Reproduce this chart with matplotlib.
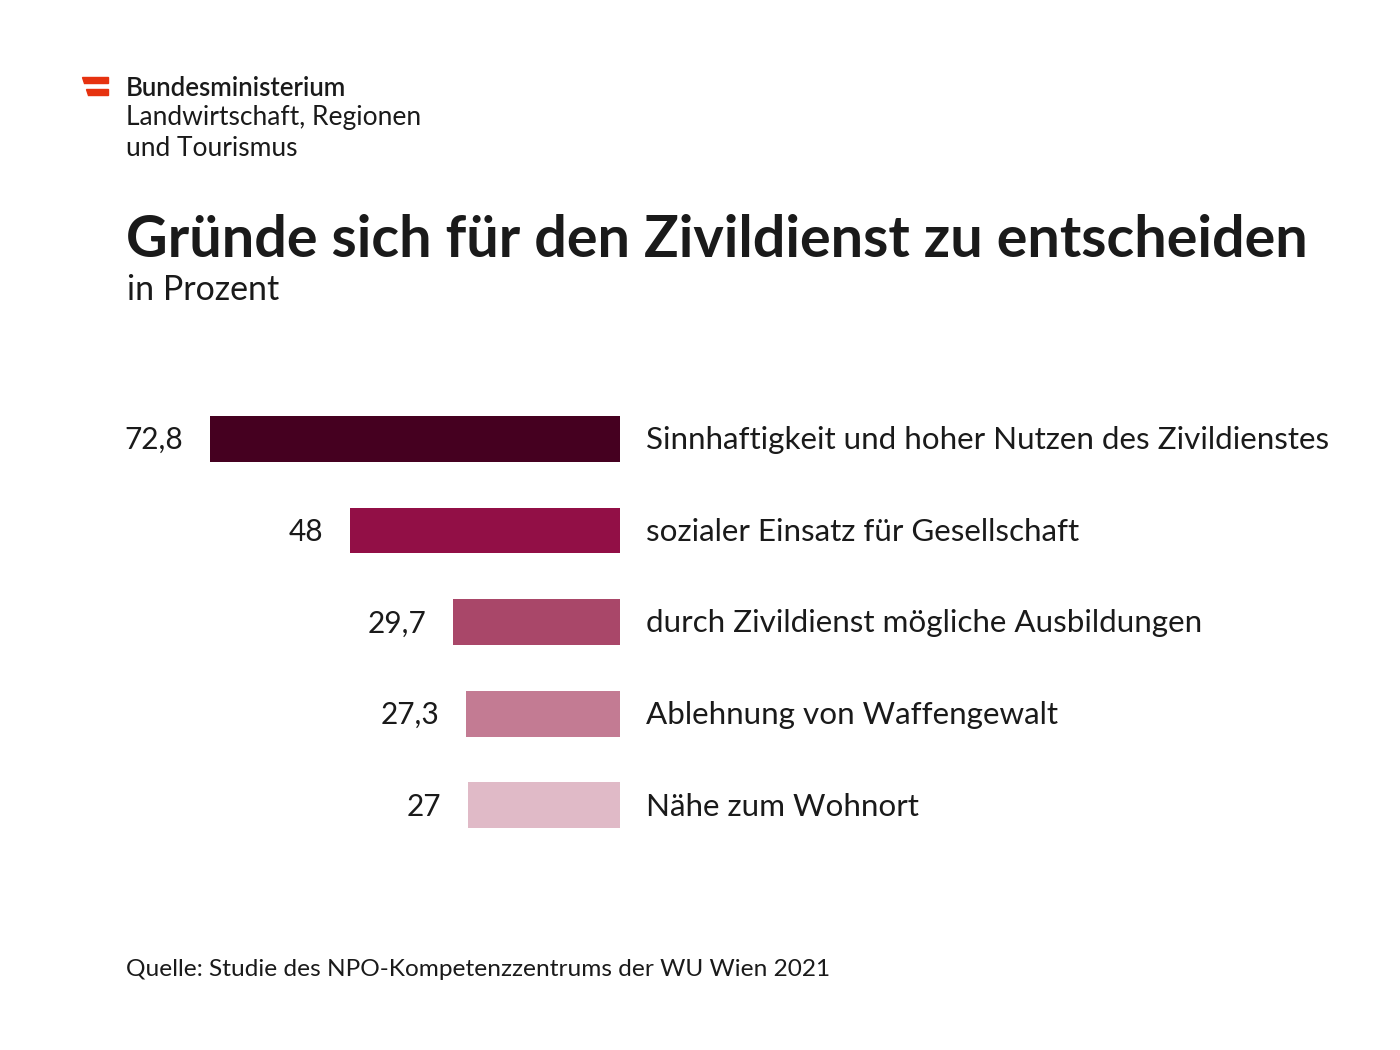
import matplotlib
matplotlib.use("Agg")
import matplotlib.pyplot as plt
from matplotlib.patches import Polygon

categories = [
    "Sinnhaftigkeit und hoher Nutzen des Zivildienstes",
    "sozialer Einsatz für Gesellschaft",
    "durch Zivildienst mögliche Ausbildungen",
    "Ablehnung von Waffengewalt",
    "Nähe zum Wohnort",
]
values = [72.8, 48, 29.7, 27.3, 27]
value_labels = ["72,8", "48", "29,7", "27,3", "27"]
colors = ["#450020", "#920f46", "#a94769", "#c37b93", "#e0bac7"]

FONT = "Lato"
plt.rcParams["font.family"] = [FONT, "DejaVu Sans"]

W, H = 1400, 1050
fig = plt.figure(figsize=(W / 100, H / 100), dpi=100)
fig.patch.set_facecolor("white")

def fx(px):
    return px / W

def fy(py):
    return 1 - py / H

# logo
fig.patches.append(Polygon([(fx(82), fy(77)), (fx(108), fy(77)), (fx(108), fy(83)), (fx(84), fy(83))],
                           closed=True, transform=fig.transFigure, color="#e6320f"))
fig.patches.append(Polygon([(fx(86), fy(89)), (fx(108), fy(89)), (fx(108), fy(95)), (fx(88), fy(95))],
                           closed=True, transform=fig.transFigure, color="#e6320f"))
fig.text(fx(126), fy(88), "Bundesministerium", fontsize=18.5, fontweight="semibold",
         va="center", ha="left", color="#1a1a1a")
fig.text(fx(126), fy(118), "Landwirtschaft, Regionen", fontsize=19, fontweight="normal",
         va="center", ha="left", color="#1a1a1a")
fig.text(fx(126), fy(148), "und Tourismus", fontsize=19, fontweight="normal",
         va="center", ha="left", color="#1a1a1a")

# title
fig.text(fx(126), fy(241), "Gründe sich für den Zivildienst zu entscheiden", fontsize=41.4,
         fontweight="bold", va="center", ha="left", color="#1a1a1a")
fig.text(fx(127), fy(290), "in Prozent", fontsize=24.5, va="center", ha="left", color="#1a1a1a")

# chart
ax = fig.add_axes([fx(210), fy(851), (620 - 210) / W, (851 - 393) / H])
y = list(range(len(values)))
ax.barh(y, values, height=0.5, color=colors)
ax.set_xlim(72.8, 0)
ax.set_ylim(len(values) - 0.5, -0.5)
ax.axis("off")

for yi, v, lab, cat in zip(y, values, value_labels, categories):
    ax.annotate(lab, (v, yi), xytext=(-19, -1), textcoords="offset points",
                ha="right", va="center", fontsize=21.5, color="#1a1a1a")
    ax.annotate(cat, (0, yi), xytext=(19, -1), textcoords="offset points",
                ha="left", va="center", fontsize=22.6, color="#1a1a1a")

fig.text(fx(126), fy(970), "Quelle: Studie des NPO-Kompetenzzentrums der WU Wien 2021",
         fontsize=17.6, va="center", ha="left", color="#1a1a1a")

fig.savefig("out.png", dpi=100)
